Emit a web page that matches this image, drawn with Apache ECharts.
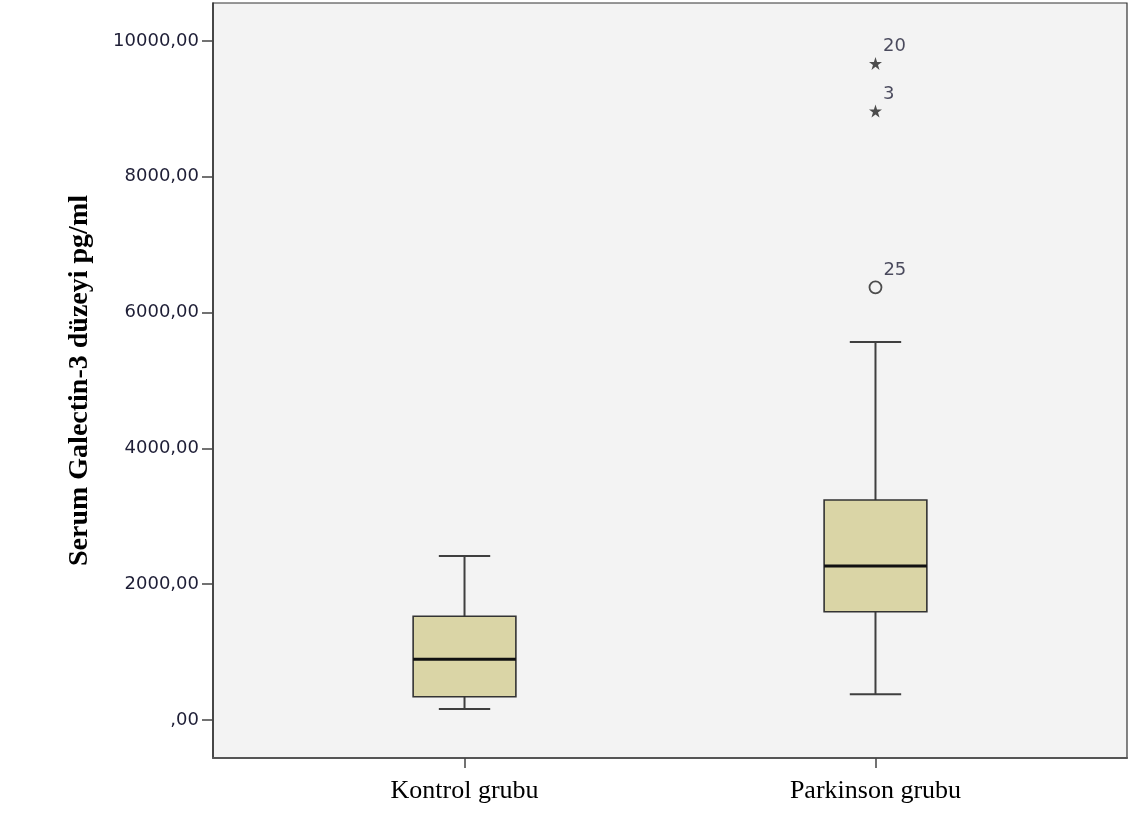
<!DOCTYPE html>
<html>
<head>
<meta charset="utf-8">
<script src="https://cdn.jsdelivr.net/npm/echarts@6/dist/echarts.min.js"></script>
<style>
  html, body { margin: 0; padding: 0; background: #ffffff; }
  #chart { width: 1129px; height: 815px; }
</style>
</head>
<body>
<div id="chart"></div>
<script>
// Groups and their box-plot summaries (pg/ml)
const categories = ['Kontrol grubu', 'Parkinson grubu'];
const whiskerLow = [162, 378];
const q1 = [343, 1595];
const median = [894, 2268];
const q3 = [1527, 3240];
const whiskerHigh = [2415, 5567];

// Outlying cases: extremes (stars) and mild outliers (circles)
const extremeGroup = [1, 1];
const extremeValues = [9670, 8969];
const extremeCases = ['20', '3'];
const outlierGroup = [1];
const outlierValues = [6372];
const outlierCases = ['25'];

// Value-axis tick labels
const yTicks = [0, 2000, 4000, 6000, 8000, 10000];
const yTickLabels = [',00', '2000,00', '4000,00', '6000,00', '8000,00', '10000,00'];

const boxData = categories.map((c, i) => [i, whiskerLow[i], q1[i], median[i], q3[i], whiskerHigh[i]]);
const extremeData = extremeValues.map((v, i) => ({ value: [extremeGroup[i], v], name: extremeCases[i] }));
const outlierData = outlierValues.map((v, i) => ({ value: [outlierGroup[i], v], name: outlierCases[i] }));

const BOX_HALF = 0.125;   // half box width in category units
const CAP_HALF = 0.0625;  // half whisker-cap width

const starPath = 'path://M50,0 L61.8,35.3 L98.9,35.3 L68.9,57.1 L80.3,92.4 L50,70.6 L19.7,92.4 L31.1,57.1 L1.1,35.3 L38.2,35.3 Z';

function renderBox(params, api) {
  const x = api.value(0);
  const lo = api.coord([x, api.value(1)]);
  const b1 = api.coord([x, api.value(2)]);
  const md = api.coord([x, api.value(3)]);
  const b3 = api.coord([x, api.value(4)]);
  const hi = api.coord([x, api.value(5)]);
  const left = api.coord([x - BOX_HALF, 0])[0];
  const right = api.coord([x + BOX_HALF, 0])[0];
  const capL = api.coord([x - CAP_HALF, 0])[0];
  const capR = api.coord([x + CAP_HALF, 0])[0];
  const whisk = { stroke: '#3f3f3f', lineWidth: 2 };
  return {
    type: 'group',
    children: [
      { type: 'line', shape: { x1: hi[0], y1: hi[1], x2: b3[0], y2: b3[1] }, style: whisk },
      { type: 'line', shape: { x1: lo[0], y1: lo[1], x2: b1[0], y2: b1[1] }, style: whisk },
      { type: 'line', shape: { x1: capL, y1: hi[1], x2: capR, y2: hi[1] }, style: whisk },
      { type: 'line', shape: { x1: capL, y1: lo[1], x2: capR, y2: lo[1] }, style: whisk },
      { type: 'rect', shape: { x: left, y: b3[1], width: right - left, height: b1[1] - b3[1] },
        style: { fill: '#DAD5A6', stroke: '#333333', lineWidth: 1.6 } },
      { type: 'line', shape: { x1: left, y1: md[1], x2: right, y2: md[1] },
        style: { stroke: '#111111', lineWidth: 3 } }
    ]
  };
}

const caseLabel = {
  show: true,
  formatter: '{b}',
  position: 'right',
  offset: [-4, -17],
  color: '#1e1e36',
  fontFamily: 'DejaVu Sans',
  fontSize: 18
};

const chart = echarts.init(document.getElementById('chart'), null, { renderer: 'canvas' });
chart.setOption({
  animation: false,
  backgroundColor: '#ffffff',
  grid: {
    left: 213, right: 2, top: 3, bottom: 57,
    show: true, backgroundColor: '#F3F3F3', borderColor: '#333333', borderWidth: 1.2
  },
  xAxis: {
    type: 'value',
    min: -0.612, max: 1.612,
    splitLine: { show: false },
    axisLine: { show: true, onZero: false, lineStyle: { color: '#555555', width: 2 } },
    axisTick: { show: true, customValues: [0, 1], length: 10, lineStyle: { color: '#444', width: 1.5 } },
    axisLabel: {
      customValues: [0, 1],
      formatter: v => categories[Math.round(v)],
      margin: 20,
      color: '#000',
      fontFamily: 'Liberation Serif',
      fontSize: 26
    }
  },
  yAxis: {
    type: 'value',
    min: -560, max: 10560,
    name: 'Serum Galectin-3 düzeyi pg/ml',
    nameLocation: 'middle',
    nameGap: 119,
    nameTextStyle: { fontFamily: 'Liberation Serif', fontWeight: 'bold', fontSize: 28, color: '#000' },
    splitLine: { show: false },
    axisLine: { show: true, onZero: false, lineStyle: { color: '#333333', width: 1.5 } },
    axisTick: { show: true, customValues: yTicks, length: 11, lineStyle: { color: '#444', width: 1.5 } },
    axisLabel: {
      customValues: yTicks,
      formatter: v => yTickLabels[yTicks.indexOf(v)],
      margin: 14,
      color: '#1e1e36',
      fontFamily: 'DejaVu Sans',
      fontSize: 18
    }
  },
  series: [
    { type: 'custom', renderItem: renderBox, data: boxData, encode: { x: 0, y: [1, 2, 3, 4, 5] }, z: 2 },
    {
      type: 'scatter', data: extremeData, symbol: starPath, symbolSize: 13,
      itemStyle: { color: '#222222' }, label: caseLabel, z: 3
    },
    {
      type: 'scatter', data: outlierData, symbol: 'circle', symbolSize: 12,
      itemStyle: { color: 'rgba(0,0,0,0)', borderColor: '#222222', borderWidth: 1.8 },
      label: caseLabel, z: 3
    }
  ]
});
</script>
</body>
</html>
